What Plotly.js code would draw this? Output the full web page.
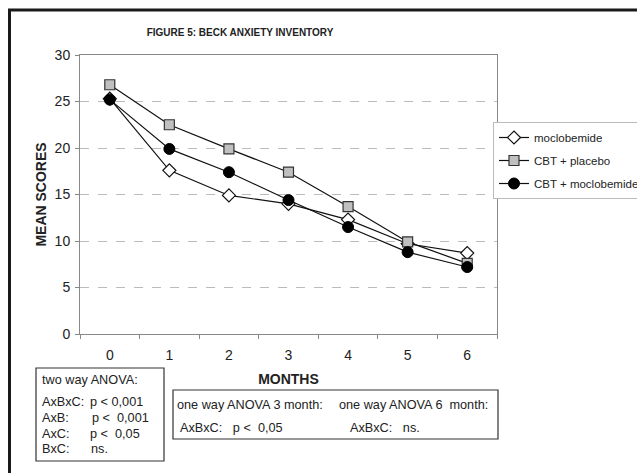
<!DOCTYPE html>
<html>
<head>
<meta charset="utf-8">
<script src="https://cdn.plot.ly/plotly-3.0.1.min.js"></script>
<style>
  html, body { margin: 0; padding: 0; background: #fff; overflow: hidden; }
  #chart { width: 637px; height: 473px; }
</style>
</head>
<body>
<div id="chart"></div>
<script>
// ---- data ----
var months = ['0', '1', '2', '3', '4', '5', '6'];
var moclobemide = [25.3, 17.6, 14.9, 14.0, 12.3, 9.7, 8.7];
var cbtPlacebo = [26.8, 22.5, 19.9, 17.4, 13.7, 9.9, 7.6];
var cbtMoclobemide = [25.2, 19.9, 17.4, 14.4, 11.5, 8.8, 7.2];
var seriesNames = ['moclobemide', 'CBT + placebo', 'CBT + moclobemide'];
var yTicks = [0, 5, 10, 15, 20, 25, 30];

var twoWayLabels = ['AxBxC:', 'AxB:', 'AxC:', 'BxC:'];
var twoWayValues = ['p &lt; 0,001', 'p &lt;  0,001', 'p &lt;  0,05', 'ns.'];

// ---- layout helpers (pixel -> paper) ----
var L = 80, R = 497, T = 55, B = 334;
function px(x) { return (x - L) / (R - L); }
function py(y) { return (B - y) / (B - T); }

var FONT = 'Liberation Sans, Arial, sans-serif';

var traces = [
  {x: months, y: moclobemide, name: seriesNames[0], legendgroup: 'a', type: 'scatter', mode: 'lines+markers',
   line: {color: '#111', width: 1.2},
   marker: {symbol: 'diamond', size: 10, color: '#fff', line: {color: '#111', width: 1.2}}},
  {x: months, y: cbtPlacebo, name: seriesNames[1], legendgroup: 'b', type: 'scatter', mode: 'lines+markers',
   line: {color: '#111', width: 1.2},
   marker: {symbol: 'square', size: 10, color: '#c0c0c0', line: {color: '#333', width: 1.2}}},
  {x: months, y: cbtMoclobemide, name: seriesNames[2], legendgroup: 'c', type: 'scatter', mode: 'lines+markers',
   line: {color: '#111', width: 1.2},
   marker: {symbol: 'circle', size: 11, color: '#000', line: {color: '#000', width: 1}}}
];

var annotations = [];
function txt(x, y, s, opts) {
  var a = {xref: 'paper', yref: 'paper', x: px(x), y: py(y), text: s, showarrow: false,
           xanchor: 'left', yanchor: 'middle', font: {family: FONT, size: 12.7, color: '#222'}};
  if (opts) for (var k in opts) a[k] = opts[k];
  annotations.push(a);
}
txt(40, 380, 'two way ANOVA:');
var rowsY = [402, 418, 434, 449];
var valX = [88, 90, 88, 89];
for (var i = 0; i < twoWayLabels.length; i++) {
  txt(40, rowsY[i], twoWayLabels[i]);
  txt(valX[i], rowsY[i], twoWayValues[i]);
}
txt(175, 405, 'one way ANOVA 3 month:');
txt(178, 428, 'AxBxC:   p &lt;  0,05');
txt(337, 405, 'one way ANOVA 6  month:');
txt(348, 428, 'AxBxC:   ns.');

var shapes = [
  // outer frame: only top and left edges are inside the picture
  {type: 'line', xref: 'paper', yref: 'paper', x0: px(8), x1: px(637), y0: py(10), y1: py(10),
   line: {color: '#1a1a1a', width: 3}},
  {type: 'line', xref: 'paper', yref: 'paper', x0: px(9.5), x1: px(9.5), y0: py(9), y1: py(473),
   line: {color: '#1a1a1a', width: 3}},
  {type: 'rect', xref: 'paper', yref: 'paper', x0: px(36), x1: px(164), y0: py(368), y1: py(461),
   line: {color: '#333', width: 1.2}},
  {type: 'rect', xref: 'paper', yref: 'paper', x0: px(173), x1: px(498), y0: py(390), y1: py(439),
   line: {color: '#333', width: 1.2}}
];

var layout = {
  width: 637, height: 473,
  margin: {l: L, r: 637 - R, t: T, b: 473 - B, autoexpand: false},
  paper_bgcolor: '#fff', plot_bgcolor: '#fff',
  font: {family: FONT, color: '#222'},
  title: {text: '<b>FIGURE 5: BECK ANXIETY INVENTORY</b>', font: {family: FONT, size: 10, color: '#222'},
          x: 240 / 637, xref: 'container', xanchor: 'center', y: 1 - 32 / 473, yanchor: 'middle'},
  xaxis: {type: 'category', categoryorder: 'array', categoryarray: months, range: [-0.5, 6.5],
          showline: true, linecolor: '#888', linewidth: 1, mirror: true,
          ticks: 'outside', tickson: 'boundaries', ticklen: 4, tickcolor: '#888',
          ticklabelstandoff: 8,
          showgrid: false, zeroline: false,
          tickfont: {family: FONT, size: 14, color: '#222'},
          title: {text: '<b>MONTHS</b>', font: {family: FONT, size: 14, color: '#222'}, standoff: 12}},
  yaxis: {range: [0, 30], tickvals: yTicks, showline: true, linecolor: '#888', linewidth: 1, mirror: true,
          ticks: 'outside', ticklen: 4, tickcolor: '#888', ticklabelstandoff: 2,
          showgrid: true, gridcolor: '#bbb', griddash: 'dash', gridwidth: 1, zeroline: false,
          tickfont: {family: FONT, size: 14, color: '#222'},
          title: {text: '<b>MEAN SCORES</b>', font: {family: FONT, size: 14, color: '#222'}, standoff: 4}},
  showlegend: true,
  legend: {x: px(493), y: py(122), xanchor: 'left', yanchor: 'top', bgcolor: '#fff',
           bordercolor: '#bbb', borderwidth: 1, font: {family: FONT, size: 11.5, color: '#222'},
           traceorder: 'grouped', tracegroupgap: 4},
  shapes: shapes,
  annotations: annotations
};

Plotly.newPlot('chart', traces, layout, {displayModeBar: false, staticPlot: true});
</script>
</body>
</html>
